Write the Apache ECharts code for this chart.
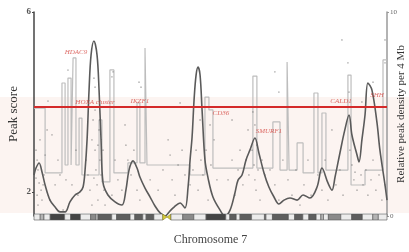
<!DOCTYPE html>
<html><head><meta charset="utf-8">
<script src="https://cdn.jsdelivr.net/npm/echarts@6/dist/echarts.min.js"></script>
<style>html,body{margin:0;padding:0;background:#fff}#c{width:409px;height:252px}</style>
</head><body><div id="c"></div>
<script>
// ---- data ----
const chromLength = 159;            // Mb
const threshold = 3.89;             // peak score threshold (red line)
const leftTicks = [2, 6];
const rightTicks = [0, 10];

// smoothed peak density curve (Mb, relative density)
const curvePos = [0,0.9,2.3,3.6,5.0,7.2,9.5,11.7,14.0,16.2,18.5,20.7,22.1,23.0,23.9,24.8,25.7,27.0,28.4,29.3,30.2,31.1,33.3,36.5,39.6,41.4,42.8,44.6,46.4,47.7,50.0,52.3,54.5,56.8,59.0,61.3,63.1,65.8,68.0,69.4,70.3,71.2,72.1,73.0,73.9,74.8,75.7,77.0,78.4,80.6,83.8,86.0,88.3,90.5,91.9,93.7,95.5,97.3,99.5,101.3,103.6,105.8,108.1,110.3,112.6,115.3,118.5,121.2,124.3,127.5,129.7,132.4,134.2,135.6,137.8,140.0,141.9,143.2,145.5,146.4,147.7,149.1,150.4,152.2,154.5,155.8,158.1,159.0];
const curveDensity = [2.01,2.35,2.6,2.16,1.52,0.78,0.44,0.2,0.2,0.69,1.03,1.18,1.42,2.25,3.73,6.18,7.89,8.58,7.89,6.18,3.73,1.62,1.03,0.69,0.54,1.27,2.25,2.7,2.35,1.91,1.37,0.93,0.49,0.15,0,0.25,0.44,0.64,0.39,1.42,2.75,3.87,5.69,6.91,7.3,6.91,5.2,2.75,1.86,0.93,0.29,0,0.29,1.13,1.76,2.01,2.75,3.24,3.82,3.09,2.11,1.42,0.93,0.59,0.78,0.88,0.78,1.03,0.88,1.42,2.35,1.62,1.27,1.91,3.09,4.22,4.95,3.97,2.99,2.65,3.73,4.95,6.52,6.18,4.56,3.24,1.52,0.78];

// binned peak density (step outline): bin start (Mb), density
const stepPos = [0,5.0,12.6,14.0,15.3,16.7,17.6,18.9,20.3,21.6,29.3,30.6,34.2,36.0,42.3,46.4,47.7,50.0,50.9,70.3,77.0,78.8,80.6,98.6,100.4,107.6,110.8,114.0,114.9,118.5,121.2,126.1,127.9,129.7,131.5,141.4,142.8,149.1,157.2,159.0];
const stepDensity = [5.29,2.11,6.52,2.5,6.76,2.5,7.75,2.5,4.8,2.01,4.71,1.67,7.16,2.11,2.6,5.54,2.6,8.24,2.5,2.01,5.83,5.2,2.35,6.86,2.35,4.61,2.25,7.55,2.25,3.58,2.11,6.03,2.11,5.05,2.25,6.91,1.52,2.25,7.65,7.65];

// individual peaks (Mb, peak score)
const peakPos = [0.9,1.4,1.8,0.9,2.3,3.2,1.4,3.6,4.5,2.7,5.9,5.0,4.1,1.8,
  7.2,9.5,11.7,14.4,17.1,19.8,13.1,10.8,8.1,18.9,
  23.4,24.3,25.2,26.1,26.6,27.5,27.5,27.9,28.4,28.8,29.3,29.7,30.2,31.1,31.5,32.0,26.1,28.8,29.7,27.0,
  6.3,15.3,27.0,27.5,35.6,35.1,41.0,
  36.5,37.8,39.6,41.4,42.3,43.7,45.0,46.4,47.7,35.1,
  47.3,48.2,65.8,
  52.3,55.9,58.1,60.4,61.3,62.2,63.5,64.9,66.7,68.0,
  70.3,71.6,73.0,73.9,75.2,76.1,77.5,78.4,79.7,81.1,82.4,74.8,79.3,
  87.4,89.2,90.5,91.9,92.8,94.1,95.5,96.8,98.2,99.1,99.5,100.0,100.4,100.9,101.8,102.7,104.0,98.6,89.2,96.4,99.5,
  108.5,110.3,
  106.3,108.5,110.3,112.1,114.4,116.2,118.0,119.8,121.6,123.4,124.8,
  127.9,129.7,131.1,132.4,134.2,136.0,137.8,139.2,
  141.9,141.4,142.3,143.2,144.1,144.6,145.5,146.4,147.3,148.2,149.5,150.4,151.8,152.7,154.0,155.4,156.7,158.1,
  138.7,158.1,158.1,152.7,147.7];
const peakScore = [2.93,2.71,2.49,2.31,2.2,2.04,1.93,1.82,2.38,3.16,3.38,2.82,2.16,1.71,
  1.82,2.16,2.38,2.27,2.16,1.93,1.6,2.71,3.27,2.93,
  2.71,2.38,2.04,3.16,3.6,3.82,2.93,2.49,2.16,1.82,3.38,2.71,2.38,2.93,2.04,1.71,1.71,3.04,3.6,2.31,
  4.02,4.71,4.53,4.33,4.67,4.56,3.49,
  2.71,2.27,2.04,3.04,2.71,2.38,2.93,2.04,1.82,1.93,
  4.44,4.33,3.98,
  2.27,2.04,2.49,3.16,2.82,2.27,1.93,2.6,2.93,2.38,
  2.16,2.49,2.93,2.04,2.71,2.38,2.93,1.82,2.6,3.16,2.27,3.6,3.49,
  2.27,2.71,1.93,2.49,2.93,2.16,2.71,2.38,2.93,2.6,2.27,2.04,3.04,2.49,1.82,2.71,2.38,3.78,3.6,3.38,3.49,
  4.67,4.22,
  2.49,2.16,1.82,2.71,2.27,1.93,2.49,1.71,2.16,2.71,1.93,
  2.38,2.04,2.71,1.82,3.38,2.16,2.49,1.93,
  4.22,4.87,2.93,2.6,2.27,2.44,2.04,2.71,2.38,2.16,2.49,1.93,2.27,2.71,2.04,2.38,1.82,2.16,
  5.38,5.38,4.87,4.44,4.0];

// gene annotations (name, Mb, peak score of label)
const geneNames = ['HDAC9','HOXA cluster','IKZF1','CD36','SMURF1','CALD1','SHH'];
const genePos   = [18.9, 27.5, 47.7, 84.2, 105.8, 138.3, 154.5];
const geneScore = [5.11, 4.0, 4.02, 3.76, 3.36, 4.02, 4.16];

// chromosome 7 ideogram bands (Mb) ; stain: 0 gneg,1 gpos25,2 gpos50,3 gpos75,4 gpos100,5 acen-p,6 acen-q
const bandStart = [0,2.8,4.5,7.3,13.8,16.5,20.9,25.5,28,28.8,35,37.2,43.3,45.4,49,50.5,54,58,59.9,61.7,67,72,77.5,86.4,88.2,91.1,92.8,98,103.8,104.5,107.4,114.6,117.4,121.1,123.8,127.1,129.2,130.4,132.6,138.2,143.1,147.9,152.6,155.1];
const bandEnd   = [2.8,4.5,7.3,13.8,16.5,20.9,25.5,28,28.8,35,37.2,43.3,45.4,49,50.5,54,58,59.9,61.7,67,72,77.5,86.4,88.2,91.1,92.8,98,103.8,104.5,107.4,114.6,117.4,121.1,123.8,127.1,129.2,130.4,132.6,138.2,143.1,147.9,152.6,155.1,159];
const bandStain = [0,1,0,4,0,4,0,2,0,3,0,3,0,3,0,3,0,5,6,0,2,0,4,0,3,0,3,0,2,0,3,0,3,0,3,0,1,0,2,0,3,0,1,0];

// ---- build ----
const serif = '"Liberation Serif","DejaVu Serif",serif';
const stainFill = ['#ececec','#b4b4b4','#8a8a8a','#5e5e5e','#444444','#d8cc3a','#d8cc3a'];
const curveData = curvePos.map((p,i)=>[p, curveDensity[i]]);
const stepData = stepPos.map((p,i)=>[p, stepDensity[i]]);
const peakData = peakPos.map((p,i)=>[p, peakScore[i]]);
const geneData = geneNames.map((n,i)=>({name:n, value:[genePos[i], geneScore[i]]}));
const bandData = bandStart.map((s,i)=>[s, bandEnd[i], bandStain[i]]);

const chart = echarts.init(document.getElementById('c'), null, {renderer:'canvas'});
chart.setOption({
  animation:false,
  backgroundColor:'#fff',
  graphic:[{type:'rect', z:-100, silent:true, shape:{x:0,y:97,width:409,height:116}, style:{fill:'#fcf4f1'}}],
  grid:{left:34, right:22, top:12, bottom:36, containLabel:false, outerBoundsMode:'none'},
  xAxis:{type:'value', min:0, max:chromLength, axisLine:{show:false}, axisTick:{show:false},
    axisLabel:{show:false}, splitLine:{show:false},
    name:'Chromosome 7', nameLocation:'middle', nameGap:18, nameMoveOverlap:false,
    nameTextStyle:{fontFamily:serif, fontSize:12, color:'#444'}},
  yAxis:[
    {type:'value', position:'left', min:1.4667, max:6, splitLine:{show:false},
     axisLine:{show:true, lineStyle:{color:'#444', width:1.5}},
     axisTick:{show:true, length:2, customValues:leftTicks, lineStyle:{color:'#444'}},
     axisLabel:{customValues:leftTicks, fontFamily:serif, fontSize:9, fontWeight:'bold', color:'#555', margin:3},
     name:'Peak score', nameLocation:'middle', nameGap:14, nameMoveOverlap:false,
     nameTextStyle:{fontFamily:serif, fontSize:13, color:'#333'}},
    {type:'value', position:'right', min:0, max:10, splitLine:{show:false},
     axisLine:{show:true, lineStyle:{color:'#9a9a9a', width:1.5}},
     axisTick:{show:true, length:2, customValues:rightTicks, lineStyle:{color:'#999'}},
     axisLabel:{customValues:rightTicks, fontFamily:serif, fontSize:7, color:'#666', margin:3},
     name:'Relative peak density per 4 Mb', nameLocation:'middle', nameGap:9, nameRotate:90,
     nameMoveOverlap:false,
     nameTextStyle:{fontFamily:serif, fontSize:11, color:'#333'}}
  ],
  series:[
    {type:'line', yAxisIndex:1, step:'end', data:stepData, symbol:'none', z:1,
     lineStyle:{color:'#bdbdbd', width:1.2}},
    {type:'scatter', yAxisIndex:0, data:peakData, symbolSize:1.8, z:2,
     itemStyle:{color:'rgba(110,110,110,0.6)'},
     markLine:{silent:true, symbol:'none', label:{show:false}, data:[{yAxis:threshold}],
       lineStyle:{color:'#d42a2a', width:2, type:'solid'}}},
    {type:'line', yAxisIndex:1, data:curveData, smooth:0.35, symbol:'none', z:3,
     lineStyle:{color:'#5a5a5a', width:1.6}},
    {type:'scatter', yAxisIndex:0, data:geneData, symbolSize:0, z:4,
     label:{show:true, position:'inside', formatter:'{b}', fontFamily:serif, fontStyle:'italic',
       fontSize:7, color:'#d5453f'}},
    {type:'custom', yAxisIndex:0, data:bandData, z:5, clip:false,
     renderItem:function(params, api){
       const a = api.coord([api.value(0), 3]);
       const b = api.coord([api.value(1), 3]);
       const cs = params.coordSys;
       const y0 = cs.y + cs.height - 2, h = 6;
       const st = api.value(2);
       if (st === 5) {
         return {type:'polygon', shape:{points:[[a[0],y0],[b[0],y0+h/2],[a[0],y0+h]]},
           style:{fill:stainFill[5], stroke:'#8d8420', lineWidth:0.6}};
       }
       if (st === 6) {
         return {type:'polygon', shape:{points:[[b[0],y0],[a[0],y0+h/2],[b[0],y0+h]]},
           style:{fill:stainFill[6], stroke:'#8d8420', lineWidth:0.6}};
       }
       return {type:'rect', shape:{x:a[0], y:y0, width:b[0]-a[0], height:h},
         style:{fill:stainFill[st], stroke:'#555', lineWidth:0.6}};
     }}
  ]
});
</script></body></html>
